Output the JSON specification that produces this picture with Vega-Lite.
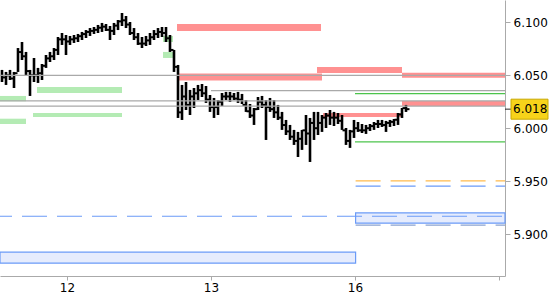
{
  "$schema": "https://vega.github.io/schema/vega-lite/v6.json",
  "width": 505,
  "height": 276,
  "autosize": {"type": "none"},
  "padding": {"left": 0, "top": 0, "right": 45, "bottom": 24},
  "background": "white",
  "config": {"view": {"stroke": null}},
  "datasets": {
    "bars": [
      {"k":0,"hi":6.0551,"lo":6.0437,"c":6.048},{"k":1,"hi":6.0532,"lo":6.0409,"c":6.050},{"k":2,"hi":6.0551,"lo":6.0456,"c":6.047},{"k":3,"hi":6.0532,"lo":6.0380,"c":6.052},
      {"k":4,"hi":6.0758,"lo":6.0532,"c":6.072},{"k":5,"hi":6.0815,"lo":6.0645,"c":6.068},{"k":6,"hi":6.0721,"lo":6.0503,"c":6.054},{"k":7,"hi":6.0551,"lo":6.0305,"c":6.050},
      {"k":8,"hi":6.0664,"lo":6.0437,"c":6.050},{"k":9,"hi":6.0570,"lo":6.0428,"c":6.052},{"k":10,"hi":6.0607,"lo":6.0456,"c":6.059},{"k":11,"hi":6.0692,"lo":6.0570,"c":6.066},
      {"k":12,"hi":6.0721,"lo":6.0626,"c":6.068},{"k":13,"hi":6.0758,"lo":6.0645,"c":6.074},{"k":14,"hi":6.0862,"lo":6.0692,"c":6.084},{"k":15,"hi":6.0900,"lo":6.0787,"c":6.084},
      {"k":16,"hi":6.0881,"lo":6.0692,"c":6.082},{"k":17,"hi":6.0872,"lo":6.0787,"c":6.084},{"k":18,"hi":6.0881,"lo":6.0806,"c":6.085},{"k":19,"hi":6.0891,"lo":6.0815,"c":6.087},
      {"k":20,"hi":6.0910,"lo":6.0834,"c":6.089},{"k":21,"hi":6.0928,"lo":6.0853,"c":6.091},{"k":22,"hi":6.0947,"lo":6.0872,"c":6.092},{"k":23,"hi":6.0957,"lo":6.0891,"c":6.093},
      {"k":24,"hi":6.0976,"lo":6.0900,"c":6.095},{"k":25,"hi":6.0995,"lo":6.0910,"c":6.096},{"k":26,"hi":6.0985,"lo":6.0919,"c":6.093},{"k":27,"hi":6.0966,"lo":6.0834,"c":6.092},
      {"k":28,"hi":6.0995,"lo":6.0881,"c":6.097},{"k":29,"hi":6.1023,"lo":6.0928,"c":6.101},{"k":30,"hi":6.1089,"lo":6.0966,"c":6.102},{"k":31,"hi":6.1061,"lo":6.0947,"c":6.098},
      {"k":32,"hi":6.1004,"lo":6.0881,"c":6.090},{"k":33,"hi":6.0947,"lo":6.0834,"c":6.086},{"k":34,"hi":6.0900,"lo":6.0787,"c":6.080},{"k":35,"hi":6.0862,"lo":6.0758,"c":6.080},
      {"k":36,"hi":6.0872,"lo":6.0777,"c":6.083},{"k":37,"hi":6.0900,"lo":6.0787,"c":6.086},{"k":38,"hi":6.0928,"lo":6.0834,"c":6.089},{"k":39,"hi":6.0947,"lo":6.0853,"c":6.091},
      {"k":40,"hi":6.0957,"lo":6.0862,"c":6.090},{"k":41,"hi":6.0957,"lo":6.0815,"c":6.085},{"k":42,"hi":6.0881,"lo":6.0721,"c":6.074},{"k":43,"hi":6.0740,"lo":6.0532,"c":6.058},
      {"k":44,"hi":6.0598,"lo":6.0097,"c":6.015},{"k":45,"hi":6.0409,"lo":6.0078,"c":6.030},{"k":46,"hi":6.0437,"lo":6.0172,"c":6.022},{"k":47,"hi":6.0362,"lo":6.0125,"c":6.030},
      {"k":48,"hi":6.0380,"lo":6.0191,"c":6.033},{"k":49,"hi":6.0409,"lo":6.0267,"c":6.036},{"k":50,"hi":6.0418,"lo":6.0295,"c":6.033},{"k":51,"hi":6.0399,"lo":6.0239,"c":6.027},
      {"k":52,"hi":6.0314,"lo":6.0154,"c":6.020},{"k":53,"hi":6.0286,"lo":6.0097,"c":6.020},{"k":54,"hi":6.0267,"lo":6.0125,"c":6.025},{"k":55,"hi":6.0333,"lo":6.0210,"c":6.030},
      {"k":56,"hi":6.0343,"lo":6.0267,"c":6.030},{"k":57,"hi":6.0343,"lo":6.0248,"c":6.030},{"k":58,"hi":6.0333,"lo":6.0267,"c":6.028},{"k":59,"hi":6.0343,"lo":6.0239,"c":6.027},
      {"k":60,"hi":6.0324,"lo":6.0229,"c":6.022},{"k":61,"hi":6.0267,"lo":6.0154,"c":6.016},{"k":62,"hi":6.0229,"lo":6.0097,"c":6.012},{"k":63,"hi":6.0191,"lo":6.0031,"c":6.018},
      {"k":64,"hi":6.0295,"lo":6.0172,"c":6.025},{"k":65,"hi":6.0305,"lo":6.0191,"c":6.022},{"k":66,"hi":6.0267,"lo":5.9889,"c":6.020},{"k":67,"hi":6.0286,"lo":6.0154,"c":6.018},
      {"k":68,"hi":6.0267,"lo":6.0097,"c":6.015},{"k":69,"hi":6.0220,"lo":6.0078,"c":6.010},{"k":70,"hi":6.0154,"lo":5.9984,"c":6.003},{"k":71,"hi":6.0078,"lo":5.9936,"c":5.997},
      {"k":72,"hi":6.0031,"lo":5.9889,"c":5.992},{"k":73,"hi":5.9984,"lo":5.9842,"c":5.988},{"k":74,"hi":5.9965,"lo":5.9728,"c":5.990},{"k":75,"hi":5.9984,"lo":5.9795,"c":5.998},
      {"k":76,"hi":6.0125,"lo":5.9842,"c":5.995},{"k":77,"hi":6.0097,"lo":5.9681,"c":6.005},{"k":78,"hi":6.0154,"lo":5.9889,"c":6.000},{"k":79,"hi":6.0154,"lo":5.9936,"c":6.005},
      {"k":80,"hi":6.0125,"lo":5.9965,"c":6.010},{"k":81,"hi":6.0144,"lo":6.0002,"c":6.012},{"k":82,"hi":6.0172,"lo":6.0031,"c":6.010},{"k":83,"hi":6.0154,"lo":6.0021,"c":6.010},
      {"k":84,"hi":6.0144,"lo":6.0040,"c":6.007},{"k":85,"hi":6.0125,"lo":5.9984,"c":5.998},{"k":86,"hi":6.0002,"lo":5.9842,"c":5.988},{"k":87,"hi":5.9984,"lo":5.9814,"c":5.997},
      {"k":88,"hi":6.0078,"lo":5.9908,"c":6.000},{"k":89,"hi":6.0059,"lo":5.9965,"c":5.998},{"k":90,"hi":6.0040,"lo":5.9955,"c":5.998},{"k":91,"hi":6.0031,"lo":5.9946,"c":6.000},
      {"k":92,"hi":6.0040,"lo":5.9974,"c":6.002},{"k":93,"hi":6.0059,"lo":5.9984,"c":6.004},{"k":94,"hi":6.0078,"lo":6.0002,"c":6.004},{"k":95,"hi":6.0078,"lo":6.0012,"c":6.003},
      {"k":96,"hi":6.0069,"lo":5.9965,"c":6.005},{"k":97,"hi":6.0078,"lo":6.0012,"c":6.006},{"k":98,"hi":6.0087,"lo":6.0021,"c":6.008},{"k":99,"hi":6.0144,"lo":6.0031,"c":6.013},
      {"k":100,"hi":6.0191,"lo":6.0097,"c":6.019},{"k":101,"hi":6.0220,"lo":6.0154,"c":6.018}
    ],
    "zones": [
      {"kind":"supply","x1":43.75,"x2":79.75,"y1":6.0985,"y2":6.0919},
      {"kind":"supply","x1":44,"x2":80,"y1":6.0517,"y2":6.0451},
      {"kind":"supply","x1":78.75,"x2":100,"y1":6.0579,"y2":6.0522},
      {"kind":"supply","x1":100,"x2":125.75,"y1":6.0525,"y2":6.0478},
      {"kind":"supply","x1":100,"x2":125.75,"y1":6.0258,"y2":6.0210},
      {"kind":"supply","x1":80.25,"x2":100,"y1":6.0144,"y2":6.0106},
      {"kind":"demand","x1":-0.5,"x2":6,"y1":6.0305,"y2":6.0255},
      {"kind":"demand","x1":8.75,"x2":30,"y1":6.0390,"y2":6.0333},
      {"kind":"demand","x1":-0.5,"x2":6,"y1":6.0090,"y2":6.0040},
      {"kind":"demand","x1":7.75,"x2":30,"y1":6.0144,"y2":6.0106},
      {"kind":"demand","x1":40.25,"x2":42.75,"y1":6.0721,"y2":6.0664},
      {"kind":"demand","x1":40.25,"x2":42.75,"y1":6.0872,"y2":6.0815}
    ],
    "boxes": [
      {"x1":-0.5,"x2":88.4,"y1":5.8828,"y2":5.8724},
      {"x1":88.4,"x2":125.75,"y1":5.9199,"y2":5.9102}
    ],
    "levels": [
      {"kind":"gray","x1":-0.5,"x2":125.75,"v":6.0500},
      {"kind":"gray","x1":52.25,"x2":125.75,"v":6.0355},
      {"kind":"gray","x1":-0.5,"x2":125.75,"v":6.0258},
      {"kind":"gray","x1":-0.5,"x2":125.75,"v":6.0208},
      {"kind":"green","x1":88.25,"x2":125.75,"v":6.0327},
      {"kind":"green","x1":88.25,"x2":125.75,"v":5.9870},
      {"kind":"orange","x1":88.4,"x2":125.75,"v":5.9502},
      {"kind":"blue","x1":88.4,"x2":125.75,"v":5.9452},
      {"kind":"slate","x1":88.4,"x2":125.75,"v":5.9083},
      {"kind":"long","x1":-0.5,"x2":125.75,"v":5.9168}
    ],
    "last": [{"v":6.018,"label":"6.018"}]
  },
  "encoding": {},
  "layer": [
    {
      "data": {"name": "zones"},
      "mark": {"type": "rect", "strokeWidth": 0},
      "encoding": {
        "x": {"field": "x1", "type": "quantitative", "scale": {"domain": [-0.5, 125.75], "nice": false, "zero": false},
          "axis": {"orient": "bottom", "values": [16.25, 52.25, 88.25, 124.25],
            "labelExpr": "datum.value < 20 ? '12' : datum.value < 60 ? '13' : datum.value < 100 ? '16' : ''",
            "title": null, "grid": false, "domainColor": "#aaaaaa", "tickColor": "#aaaaaa", "tickSize": 4,
            "labelFont": "DejaVu Sans", "labelFontSize": 12, "labelColor": "#000000", "labelPadding": 2}},
        "x2": {"field": "x2"},
        "y": {"field": "y1", "type": "quantitative", "scale": {"domain": [5.8603, 6.1212], "nice": false, "zero": false},
          "axis": {"orient": "right", "values": [5.9, 5.95, 6.0, 6.05, 6.1], "format": ".3f",
            "title": null, "grid": false, "domainColor": "#aaaaaa", "tickColor": "#aaaaaa", "tickSize": 5,
            "labelFont": "DejaVu Sans", "labelFontSize": 12, "labelColor": "#000000", "labelPadding": 3}},
        "y2": {"field": "y2"},
        "fill": {"field": "kind", "type": "nominal", "scale": {"domain": ["supply", "demand"], "range": ["#ff9191", "#b4ebb4"]}, "legend": null}
      }
    },
    {
      "data": {"name": "boxes"},
      "mark": {"type": "rect", "fill": "#e6ecfd", "stroke": "#6b9bf7", "strokeWidth": 1.2},
      "encoding": {
        "x": {"field": "x1", "type": "quantitative"},
        "x2": {"field": "x2"},
        "y": {"field": "y1", "type": "quantitative"},
        "y2": {"field": "y2"}
      }
    },
    {
      "data": {"name": "bars"},
      "mark": {"type": "rule", "color": "#000000", "strokeWidth": 2.6, "strokeCap": "butt"},
      "encoding": {
        "x": {"field": "k", "type": "quantitative"},
        "y": {"field": "lo", "type": "quantitative"},
        "y2": {"field": "hi"}
      }
    },
    {
      "data": {"name": "bars"},
      "mark": {"type": "tick", "orient": "horizontal", "color": "#000000", "size": 3, "thickness": 2, "xOffset": 2, "opacity": 1},
      "encoding": {
        "x": {"field": "k", "type": "quantitative"},
        "y": {"field": "c", "type": "quantitative"}
      }
    },
    {
      "data": {"name": "levels"},
      "transform": [{"filter": "datum.kind === 'gray' || datum.kind === 'green'"}],
      "mark": {"type": "rule", "strokeWidth": 1.2},
      "encoding": {
        "x": {"field": "x1", "type": "quantitative"},
        "x2": {"field": "x2"},
        "y": {"field": "v", "type": "quantitative"},
        "stroke": {"field": "kind", "type": "nominal", "scale": {"domain": ["gray", "green", "orange", "blue", "slate", "long"], "range": ["#a9a9a9", "#4cc44c", "#ffbb4d", "#6b9bf7", "#8aa2d0", "#6b9bf7"]}, "legend": null}
      }
    },
    {
      "data": {"name": "levels"},
      "transform": [{"filter": "datum.kind === 'orange' || datum.kind === 'blue' || datum.kind === 'slate'"}],
      "mark": {"type": "rule", "strokeWidth": 1.2, "strokeDash": [25, 10]},
      "encoding": {
        "x": {"field": "x1", "type": "quantitative"},
        "x2": {"field": "x2"},
        "y": {"field": "v", "type": "quantitative"},
        "stroke": {"field": "kind", "type": "nominal", "legend": null}
      }
    },
    {
      "data": {"name": "levels"},
      "transform": [{"filter": "datum.kind === 'long'"}],
      "mark": {"type": "rule", "strokeWidth": 1.2, "strokeDash": [25, 10], "strokeDashOffset": 13},
      "encoding": {
        "x": {"field": "x1", "type": "quantitative"},
        "x2": {"field": "x2"},
        "y": {"field": "v", "type": "quantitative"},
        "stroke": {"field": "kind", "type": "nominal", "legend": null}
      }
    },
    {
      "data": {"name": "last"},
      "mark": {"type": "tick", "orient": "horizontal", "color": "#000000", "size": 6, "thickness": 1.2, "xOffset": 3},
      "encoding": {
        "x": {"value": "width"},
        "y": {"field": "v", "type": "quantitative"}
      }
    },
    {
      "data": {"name": "last"},
      "mark": {"type": "rect", "width": 37, "height": 20, "fill": "#f7d31a", "stroke": "#c9a800", "strokeWidth": 1, "xOffset": 24.5},
      "encoding": {
        "x": {"value": "width"},
        "y": {"field": "v", "type": "quantitative"}
      }
    },
    {
      "data": {"name": "last"},
      "mark": {"type": "text", "font": "DejaVu Sans", "fontSize": 12, "color": "#000000", "align": "left", "baseline": "middle", "dx": 8},
      "encoding": {
        "x": {"value": "width"},
        "y": {"field": "v", "type": "quantitative"},
        "text": {"field": "label"}
      }
    }
  ]
}
